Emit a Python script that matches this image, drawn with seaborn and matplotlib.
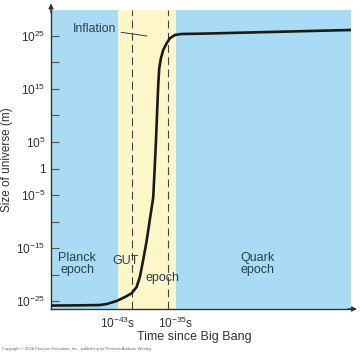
import numpy as np
import pandas as pd
import matplotlib
matplotlib.use("Agg")
import matplotlib.pyplot as plt
from matplotlib.ticker import FixedLocator, NullFormatter
import seaborn as sns

# ---- data (log10 exponents) ----
time_exp = [-52.24, -48.24, -45.48, -44.56, -43.18, -42.03, -41.11, -40.42,
            -39.97, -39.51, -39.04, -38.59, -38.13, -37.94, -37.76, -37.58,
            -37.44, -37.30, -37.07, -36.75, -36.28, -35.83, -35.14, -34.21,
            -31.69, -10.86]
size_exp = [-25.85, -25.81, -25.75, -25.57, -25.0, -24.25, -23.55, -22.36,
            -20.47, -17.26, -13.70, -9.60, -5.50, -0.28, 4.81, 11.04,
            15.75, 18.91, 20.79, 22.36, 23.62, 24.57, 25.19, 25.38,
            25.43, 26.13]
gut_start_exp, gut_end_exp = -43, -35
dashed_exp = [-41.07, -36.1]
ytick_major_exp = [25, 15, 5, 0, -5, -15, -25]
ytick_major_labels = [r"$\mathregular{10^{25}}$", r"$\mathregular{10^{15}}$",
                      r"$\mathregular{10^{5}}$", "1", r"$\mathregular{10^{-5}}$",
                      r"$\mathregular{10^{-15}}$", r"$\mathregular{10^{-25}}$"]
ytick_minor_exp = [20, 10, -10, -20]
xtick_exp = [-43, -35]
xtick_labels = [r"$\mathregular{10^{-43}}$s", r"$\mathregular{10^{-35}}$s"]
epoch_labels = ["Planck\nepoch", "GUT", "epoch", "Quark\nepoch"]

df = pd.DataFrame({"time": np.power(10.0, time_exp), "size": np.power(10.0, size_exp)})

sns.set_theme(style="white")
plt.rcParams["font.family"] = ["Liberation Sans", "DejaVu Sans"]
plt.rcParams["mathtext.fontset"] = "custom"
plt.rcParams["mathtext.rm"] = "Liberation Sans"
plt.rcParams["mathtext.it"] = "Liberation Sans:italic"
plt.rcParams["mathtext.bf"] = "Liberation Sans:bold"

BLUE = "#a9dcf4"
YELLOW = "#fdf6c8"
TXT = "#2a3f55"

fig = plt.figure(figsize=(3.6, 3.55), dpi=100)
ax = fig.add_axes([51/360, 46/355, 300/360, 299/355])
ax.set_xscale("log")
ax.set_yscale("log")
ax.set_facecolor(BLUE)
ax.set_xlim(10**-52.2, 10**-10.9)
ax.set_ylim(10**-26.5, 10**29.9)

ax.axvspan(10.0**gut_start_exp, 10.0**gut_end_exp, color=YELLOW, zorder=0, lw=0)
for d in dashed_exp:
    ax.axvline(10.0**d, color="#444444", lw=0.8, linestyle=(0, (7, 4)), zorder=1)

sns.lineplot(data=df, x="time", y="size", ax=ax, color="#1a1a1a", lw=1.9,
             zorder=3, sort=False)

# ticks
ax.yaxis.set_major_locator(FixedLocator([10.0**e for e in ytick_major_exp]))
ax.set_yticklabels(ytick_major_labels)
ax.yaxis.set_minor_locator(FixedLocator([10.0**e for e in ytick_minor_exp]))
ax.yaxis.set_minor_formatter(NullFormatter())
ax.tick_params(axis="y", which="both", direction="in", length=6, width=0.8,
               color="#555555", labelsize=8.6, labelcolor="#333333", pad=4, left=True)
ax.xaxis.set_major_locator(FixedLocator([10.0**e for e in xtick_exp]))
ax.set_xticklabels(xtick_labels)
ax.xaxis.set_minor_locator(FixedLocator([]))
ax.tick_params(axis="x", which="both", length=0, labelsize=8.6, labelcolor="#333333", pad=5)

ax.set_ylabel("Size of universe (m)", fontsize=8.5, color="#333333", labelpad=2)
ax.set_xlabel("Time since Big Bang", fontsize=9, color="#333333")
ax.xaxis.set_label_coords(0.477, -0.075)

for s in ["top", "right"]:
    ax.spines[s].set_visible(False)
for s in ["left", "bottom"]:
    ax.spines[s].set_color("#333333")
    ax.spines[s].set_linewidth(1.0)

# axis arrows
ax.annotate("", xy=(1.02, 0), xytext=(0.99, 0), xycoords="axes fraction",
            arrowprops=dict(arrowstyle="-|>", color="#333333", lw=1.0,
                            mutation_scale=7, shrinkA=0, shrinkB=0))
ax.annotate("", xy=(0, 1.022), xytext=(0, 0.99), xycoords="axes fraction",
            arrowprops=dict(arrowstyle="-|>", color="#333333", lw=1.0,
                            mutation_scale=7, shrinkA=0, shrinkB=0))

# epoch labels
ax.text(10**-48.6, 10**-18.0, epoch_labels[0], ha="center", va="center",
        fontsize=9, color=TXT, linespacing=1.0)
ax.text(10**-42.0, 10**-17.5, epoch_labels[1], ha="center", va="center",
        fontsize=9, color=TXT)
ax.text(10**-36.9, 10**-20.7, epoch_labels[2], ha="center", va="center",
        fontsize=9, color=TXT)
ax.text(10**-23.8, 10**-18.0, epoch_labels[3], ha="center", va="center",
        fontsize=9, color=TXT, linespacing=1.0)

# Inflation leader
ax.annotate("Inflation", xy=(10**-39.0, 10**25.0), xytext=(10**-43.2, 10**26.4),
            ha="right", va="center", fontsize=8.8, color=TXT,
            arrowprops=dict(arrowstyle="-", color=TXT, lw=0.7, shrinkA=1, shrinkB=0))

fig.text(0.005, 0.012, "Copyright \u00a9 2008 Pearson Education, Inc., publishing as Pearson Addison-Wesley.",
         fontsize=3, color="#666666", ha="left", va="bottom")

fig.savefig("out.png", dpi=100, facecolor="white")
